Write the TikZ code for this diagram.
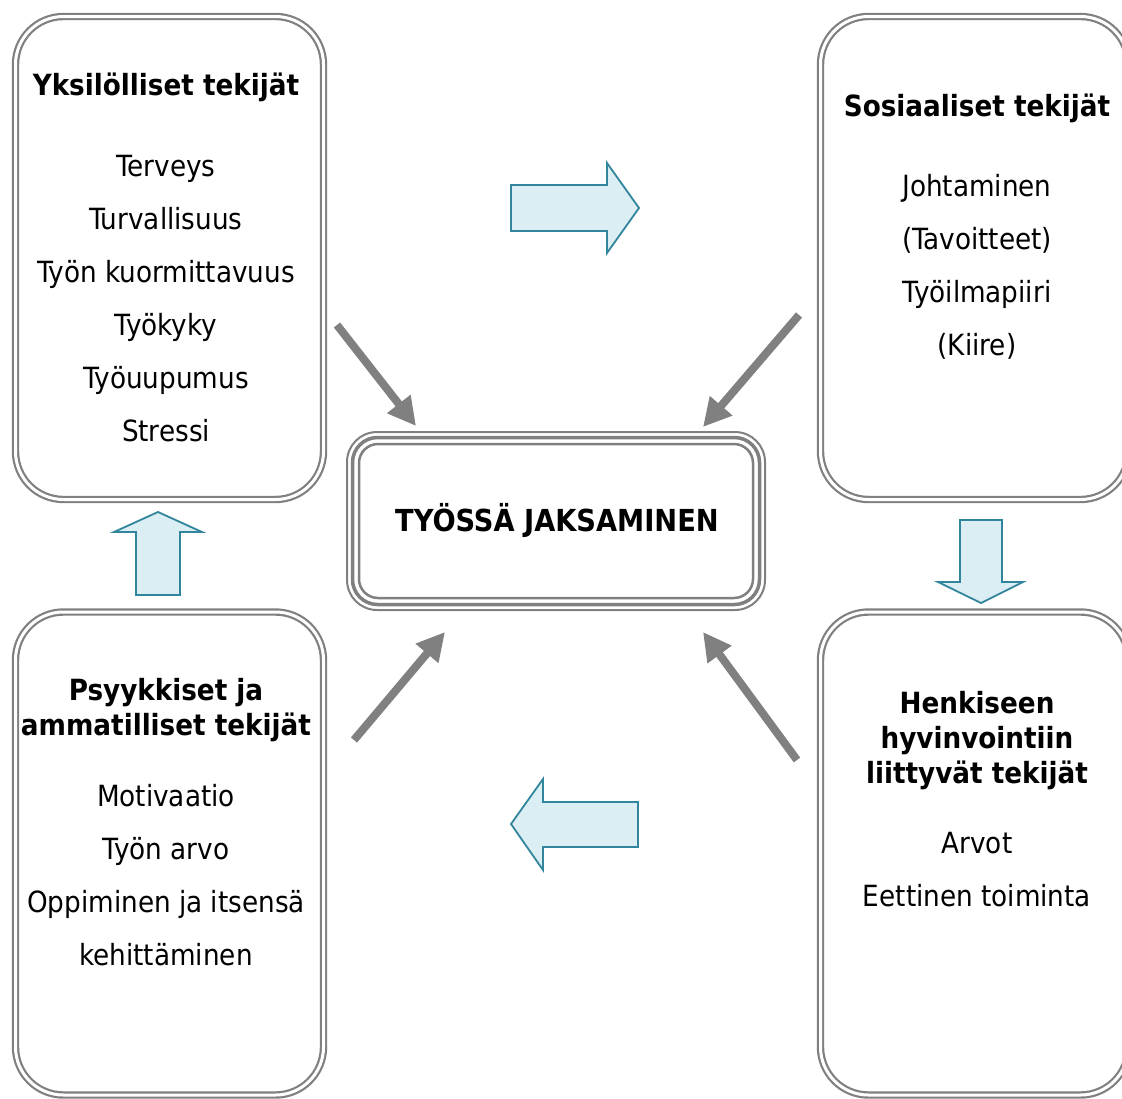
\documentclass[tikz,border=0pt]{standalone}
\usepackage{fontspec}
\setmainfont{DejaVu Sans Condensed}
\usetikzlibrary{arrows.meta}
\definecolor{boxgray}{RGB}{128,128,128}
\definecolor{arrowfill}{RGB}{219,238,243}
\definecolor{arrowline}{RGB}{49,133,156}
\begin{document}
\begin{tikzpicture}[x=1pt,y=-1pt,
  sidebox/.style={draw=boxgray, line width=2.2pt, double=white, double distance=3pt,
    rounded corners=48pt, minimum width=308pt, minimum height=483pt, inner sep=0pt},
  txt/.style={font=\fontsize{29.2}{35}\selectfont, anchor=base, inner sep=0pt},
  ttl/.style={font=\fontsize{29.2}{35}\selectfont\bfseries, anchor=base, inner sep=0pt},
  blockarrow/.style={draw=arrowline, fill=arrowfill, line width=1.8pt, line join=miter},
  grayarrow/.style={draw=boxgray, line width=8pt, -{Triangle[length=28pt,width=28pt]}},
]
\useasboundingbox (0,0) rectangle (1122,1098);
\clip (0,0) rectangle (1122,1098);
\fill[white] (0,0) rectangle (1122,1098);

% side boxes
\node[sidebox] (tl) at (169.5,258) {};
\node[sidebox] (tr) at (974.5,258) {};
\node[sidebox] (bl) at (169.5,853.5) {};
\node[sidebox] (br) at (974.5,853.5) {};

% centre box (triple line)
\draw[boxgray, line width=2pt, rounded corners=30pt] (347,432) rectangle (765,610);
\draw[boxgray, line width=3.5pt, rounded corners=25pt] (352.5,437.5) rectangle (759.5,604.5);
\draw[boxgray, line width=2.5pt, rounded corners=19pt] (359,444) rectangle (753,598);
\node[ttl, font=\fontsize{30.3}{35}\selectfont\bfseries] (center) at (557,531) {TYÖSSÄ JAKSAMINEN};

% top-left texts
\node[ttl] (tlt) at (166,95) {Yksilölliset tekijät};
\node[txt] (tl1) at (166,176) {Terveys};
\node[txt] (tl2) at (166,229) {Turvallisuus};
\node[txt] (tl3) at (166,282) {Työn kuormittavuus};
\node[txt] (tl4) at (166,335) {Työkyky};
\node[txt] (tl5) at (166,388) {Työuupumus};
\node[txt] (tl6) at (166,441) {Stressi};

% top-right texts
\node[ttl] (trt) at (977,116) {Sosiaaliset tekijät};
\node[txt] (tr1) at (977,196) {Johtaminen};
\node[txt] (tr2) at (977,249) {(Tavoitteet)};
\node[txt] (tr3) at (977,302) {Työilmapiiri};
\node[txt] (tr4) at (977,355) {(Kiire)};

% bottom-left texts
\node[ttl] (blt1) at (166,700) {Psyykkiset ja};
\node[ttl] (blt2) at (166,735) {ammatilliset tekijät};
\node[txt] (bl1) at (166,806) {Motivaatio};
\node[txt] (bl2) at (166,859) {Työn arvo};
\node[txt] (bl3) at (166,912) {Oppiminen ja itsensä};
\node[txt] (bl4) at (166,965) {kehittäminen};

% bottom-right texts
\node[ttl] (brt1) at (977,713) {Henkiseen};
\node[ttl] (brt2) at (977,748) {hyvinvointiin};
\node[ttl] (brt3) at (977,783) {liittyvät tekijät};
\node[txt] (br1) at (977,853) {Arvot};
\node[txt] (br2) at (977,906) {Eettinen toiminta};

% gray arrows
\coordinate (a1s) at (337,325); \coordinate (a1e) at (416,426);
\coordinate (a2s) at (799,315); \coordinate (a2e) at (703,427);
\coordinate (a3s) at (354,740); \coordinate (a3e) at (445,632);
\coordinate (a4s) at (797,760); \coordinate (a4e) at (703,632);
\draw[grayarrow] (a1s) -- (a1e);
\draw[grayarrow] (a2s) -- (a2e);
\draw[grayarrow] (a3s) -- (a3e);
\draw[grayarrow] (a4s) -- (a4e);

% block arrows
\draw[blockarrow] (511,185) -- (607,185) -- (607,163) -- (639,208) -- (607,253) -- (607,231) -- (511,231) -- cycle;
\draw[blockarrow] (960,520) -- (1002,520) -- (1002,582) -- (1023,582) -- (981,603) -- (938,582) -- (960,582) -- cycle;
\draw[blockarrow] (136,595) -- (136,532) -- (114,532) -- (158,512) -- (202,532) -- (180,532) -- (180,595) -- cycle;
\draw[blockarrow] (638,802) -- (543,802) -- (543,779) -- (511,824) -- (543,870) -- (543,847) -- (638,847) -- cycle;
\end{tikzpicture}
\end{document}
